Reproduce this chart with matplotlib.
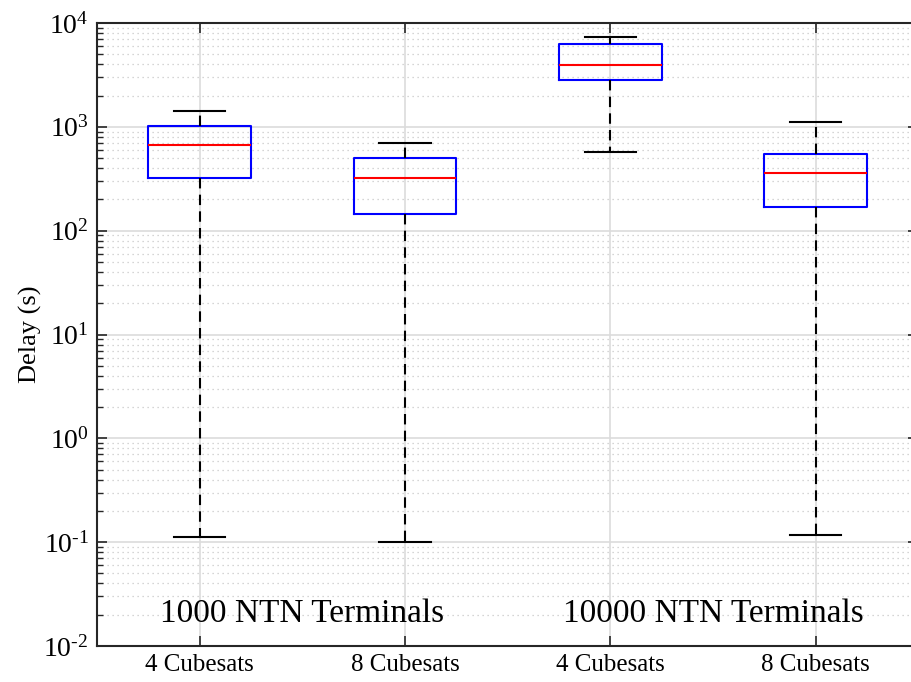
import matplotlib
matplotlib.use('Agg')
import matplotlib.pyplot as plt
import numpy as np
from matplotlib.ticker import LogLocator, NullFormatter, FixedLocator, FuncFormatter

plt.rcParams['font.family'] = ['Liberation Serif', 'DejaVu Serif']
plt.rcParams['mathtext.fontset'] = 'custom'
plt.rcParams['mathtext.rm'] = 'Liberation Serif'
plt.rcParams['mathtext.it'] = 'Liberation Serif:italic'

# box statistics (seconds)
labels = ['4 Cubesats', '8 Cubesats', '4 Cubesats', '8 Cubesats']
whislo = [0.1125, 0.100, 568, 0.1175]
q1 = [321, 146, 2805, 170]
med = [673, 321, 3936, 359]
q3 = [1026, 500, 6285, 543]
whishi = [1419, 698, 7385, 1112]
group_names = ['1000 NTN Terminals', '10000 NTN Terminals']
group_centers = [1.5, 3.5]
decades = [1e-2, 1e-1, 1e0, 1e1, 1e2, 1e3, 1e4]

stats = []
for i in range(len(labels)):
    stats.append({'whislo': whislo[i], 'q1': q1[i], 'med': med[i],
                  'q3': q3[i], 'whishi': whishi[i], 'fliers': []})

fig = plt.figure(figsize=(9.12, 6.82), dpi=100)
ax = fig.add_axes([97/912, 36/682, 821.5/912, 623/682])

ax.set_yscale('log')
ax.set_ylim(decades[0], decades[-1])
ax.set_xlim(0.5, 4.5)

# grid first so boxes sit on top
ax.yaxis.set_major_locator(FixedLocator(decades))
ax.yaxis.set_minor_locator(LogLocator(base=10, subs=np.arange(2, 10), numticks=20))
ax.yaxis.set_minor_formatter(NullFormatter())


def dec_label(v, pos):
    e = int(round(np.log10(v)))
    if e < 0:
        return '$10^{\u2010%d}$' % (-e)
    return r'$10^{%d}$' % e


ax.yaxis.set_major_formatter(FuncFormatter(dec_label))
ax.grid(True, which='major', color='#dcdcdc', linewidth=1.2, linestyle='-', zorder=0)
ax.grid(True, which='minor', axis='y', color='#c8c8c8', linewidth=0.9,
        linestyle=(0, (1, 3)), zorder=0)

ax.bxp(stats, positions=[1, 2, 3, 4], widths=0.5, showfliers=False,
       boxprops=dict(color='blue', linewidth=1.5),
       medianprops=dict(color='red', linewidth=1.5),
       whiskerprops=dict(color='black', linewidth=1.5, linestyle=(0, (5, 3))),
       capprops=dict(color='black', linewidth=1.5),
       capwidths=0.25, manage_ticks=False, zorder=3)

ax.xaxis.set_major_locator(FixedLocator([1, 2, 3, 4]))
ax.set_xticklabels(labels)

for name, xc in zip(group_names, group_centers):
    ax.text(xc, 0.0205, name, ha='center', va='center', fontsize=24, zorder=4)

ax.set_ylabel('Delay (s)', fontsize=19, labelpad=1)

ax.tick_params(axis='both', which='both', direction='in', top=True, right=True,
               colors='#262626', labelcolor='black')
ax.tick_params(axis='y', which='major', length=7, width=1.2, labelsize=20, pad=6)
ax.tick_params(axis='y', which='minor', length=4, width=1.0)
ax.tick_params(axis='x', which='major', length=7, width=1.2, labelsize=18, pad=6)
for s in ax.spines.values():
    s.set_linewidth(1.5)
    s.set_color('#262626')

fig.savefig('out.png', dpi=100)
